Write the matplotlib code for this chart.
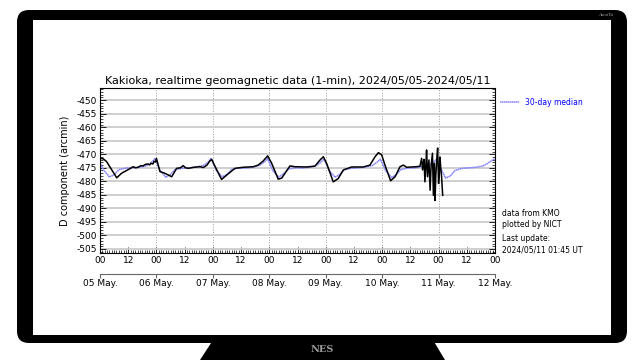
import numpy as np
import matplotlib
matplotlib.use("Agg")
import matplotlib.pyplot as plt
from matplotlib.patches import FancyBboxPatch, Rectangle, Polygon
from matplotlib.ticker import MultipleLocator, FixedLocator, FixedFormatter

plt.rcParams["axes.unicode_minus"] = False

# hours since 2024/05/05 00 UT, D component (arcmin)
d_hours = [0, 1.4, 2.8, 4.3, 6.4, 7.1, 9.2, 11.3, 13.0, 14.0, 15.2, 16.2, 17.4, 18.3,
           19.4, 20.4, 21.2, 21.7, 22.5, 23.0, 23.6, 24.0, 25.5, 27.5, 30.5, 32.6,
           34.2, 35.4, 36.4, 37.6, 40.0, 42.5, 44.0, 45.5, 46.8, 47.5, 49.5, 51.7,
           54.0, 57.4, 61.0, 65.2, 67.3, 69.5, 71.3, 73.0, 75.8, 77.3, 80.8, 82.9,
           87.9, 91.4, 93.6, 95.0, 96.4, 99.2, 101.3, 103.5, 107.0, 112.0, 114.8,
           117.0, 118.4, 119.8, 121.2, 123.6, 125.5, 127.6, 129.0, 130.4, 134.7,
           136.1, 136.8, 137.2, 137.6, 137.8, 138.2, 138.6, 138.9, 139.3, 139.9,
           140.4, 140.8, 141.4, 141.8, 142.2, 142.5, 142.8, 143.2, 143.6, 144.0,
           144.3, 144.6, 144.9, 145.3, 145.75]
d_vals = [-471.5, -471.7, -472.7, -474.8, -477.7, -478.7, -477.0, -476.0, -475.2, -474.6,
          -475.0, -474.8, -474.2, -474.3, -473.7, -473.6, -473.9, -473.3, -473.6, -472.6,
          -472.9, -471.5, -476.4, -477.0, -478.3, -475.2, -475.0, -474.2, -475.0, -475.2,
          -474.8, -474.6, -474.9, -474.0, -472.4, -471.9, -475.5, -479.3, -477.6, -475.2,
          -474.8, -474.6, -474.0, -472.4, -470.6, -473.3, -479.2, -478.8, -474.3, -474.6,
          -474.7, -474.4, -472.1, -470.9, -473.4, -480.2, -479.0, -475.8, -474.7, -474.7,
          -474.0, -470.9, -469.4, -470.2, -474.0, -479.8, -478.3, -474.6, -474.0, -474.8,
          -474.6, -474.4, -471.5, -475.8, -473.0, -471.9, -480.2, -474.0, -468.4, -478.3,
          -472.1, -483.3, -474.6, -469.6, -485.2, -473.3, -487.1, -478.3, -472.1, -467.7,
          -480.8, -477.1, -471.0, -474.8, -478.5, -485.2]

# 30-day median
med_hours = [0, 1.5, 4, 6, 8, 11, 14, 17, 20, 22, 23.3,
             24, 25.5, 28, 30, 32, 35, 38, 41, 44, 46, 47.3,
             48, 49.5, 52, 54, 56, 59, 62, 65, 68, 70, 71.3,
             72, 73.5, 76, 78, 80, 83, 86, 89, 92, 94, 95.3,
             96, 97.5, 100, 102, 104, 107, 110, 113, 116, 118, 119.3,
             120, 121.5, 124, 126, 128, 131, 134, 137, 140, 142, 143.3,
             144, 145.5, 147, 149, 151, 154, 157, 160, 163, 165, 166.5, 168]
med_vals = [-473.0, -475.8, -478.4, -477.6, -475.7, -475.1, -475.0, -474.8, -474.2, -473.0, -471.6,
            -472.9, -475.9, -478.5, -477.4, -475.6, -475.2, -475.0, -474.7, -474.1, -472.9, -471.5,
            -473.0, -476.0, -478.3, -477.5, -475.6, -475.1, -475.1, -474.8, -474.0, -472.8, -471.6,
            -473.1, -476.1, -478.4, -477.3, -475.5, -475.0, -475.1, -474.8, -474.2, -472.9, -471.7,
            -473.2, -476.0, -478.5, -477.4, -475.6, -475.2, -475.0, -474.7, -474.1, -472.8, -471.8,
            -473.2, -476.1, -478.6, -477.5, -475.6, -475.1, -475.0, -474.6, -474.0, -472.7, -471.9,
            -473.3, -476.3, -478.8, -478.0, -476.0, -475.2, -475.0, -474.8, -474.3, -473.3, -472.4, -471.6]

day_hours = [0, 24, 48, 72, 96, 120, 144, 168]
day_labels = ["05 May.", "06 May.", "07 May.", "08 May.", "09 May.", "10 May.", "11 May.", "12 May."]

fig = plt.figure(figsize=(6.4, 3.6), dpi=100, facecolor="white")

# monitor frame (inches, origin bottom-left)
inch = fig.dpi_scale_trans
fig.patches.append(FancyBboxPatch((0.29, 0.29), 5.86, 3.09, boxstyle="round,pad=0.12",
                                  fc="black", ec="none", transform=inch, zorder=-5))
fig.patches.append(Polygon([[2.0, 0.0], [4.45, 0.0], [4.33, 0.2], [2.13, 0.2]],
                           closed=True, fc="black", ec="none", transform=inch, zorder=-5))
fig.patches.append(Rectangle((0.33, 0.25), 5.78, 3.15, fc="white", ec="none",
                             transform=inch, zorder=-4))
fig.text(322 / 640, 1 - 349 / 360, "NES", color="#9a9a9a", fontsize=7, weight="bold",
         family="DejaVu Serif", ha="center", va="center")
fig.text(606 / 640, 1 - 15 / 360, "AmoiTa", color="#aaaaaa", fontsize=3.5, style="italic",
         family="Liberation Serif", ha="center", va="center")

ax = fig.add_axes([100 / 640, 1 - 253 / 360, 395 / 640, 165 / 360])
ax.set_xlim(0, 168)
ax.set_ylim(-506.5, -445.5)

ax.yaxis.grid(True, color="#cccccc", lw=1.3, ls="-")
ax.set_axisbelow(True)
for d in day_hours[1:-1]:
    ax.axvline(d, color="#999999", ls=":", lw=0.7, zorder=0.5)

ax.plot(med_hours, med_vals, color="#8080ff", lw=1.1, ls=(0, (1, 0.3)), label="30-day median")
ax.plot(d_hours, d_vals, color="black", lw=1.1)

ax.xaxis.set_major_locator(FixedLocator(list(range(0, 169, 12))))
ax.xaxis.set_major_formatter(FixedFormatter(["00" if i % 2 == 0 else "12" for i in range(15)]))
ax.xaxis.set_minor_locator(MultipleLocator(1))
ax.yaxis.set_major_locator(MultipleLocator(5))
ax.yaxis.set_minor_locator(MultipleLocator(1))
ax.tick_params(which="both", direction="in", top=True, right=True, labelsize=6.5, pad=2)
ax.tick_params(which="major", length=4, width=0.6)
ax.tick_params(which="minor", length=2.5, width=0.5)
for s in ax.spines.values():
    s.set_linewidth(0.8)

ax.set_ylabel("D component (arcmin)", fontsize=7, labelpad=5)
ax.set_title("Kakioka, realtime geomagnetic data (1-min), 2024/05/05-2024/05/11",
             fontsize=8, pad=3)

# date axis under the plot
ax2 = ax.twiny()
ax2.set_xlim(ax.get_xlim())
ax2.xaxis.set_ticks_position("bottom")
ax2.xaxis.set_label_position("bottom")
ax2.spines["bottom"].set_position(("outward", 15))
for k in ["top", "left", "right"]:
    ax2.spines[k].set_visible(False)
ax2.spines["bottom"].set_color("#666666")
ax2.spines["bottom"].set_linewidth(0.8)
ax2.xaxis.set_major_locator(FixedLocator(day_hours))
ax2.xaxis.set_major_formatter(FixedFormatter(day_labels))
ax2.tick_params(axis="x", labelsize=6.5, length=3, color="#666666", pad=1)

leg = ax.legend(loc="upper left", bbox_to_anchor=(1.0, 0.97), frameon=False, fontsize=5.5,
                labelcolor="blue", handlelength=2.5, borderaxespad=0.2)

fig.text(502 / 640, 1 - 209 / 360, "data from KMO\nplotted by NICT", fontsize=5.5,
         va="top", linespacing=1.3)
fig.text(502 / 640, 1 - 234 / 360, "Last update:\n2024/05/11 01:45 UT", fontsize=5.5,
         va="top", linespacing=1.3)

fig.savefig("out.png", dpi=100, facecolor="white")
